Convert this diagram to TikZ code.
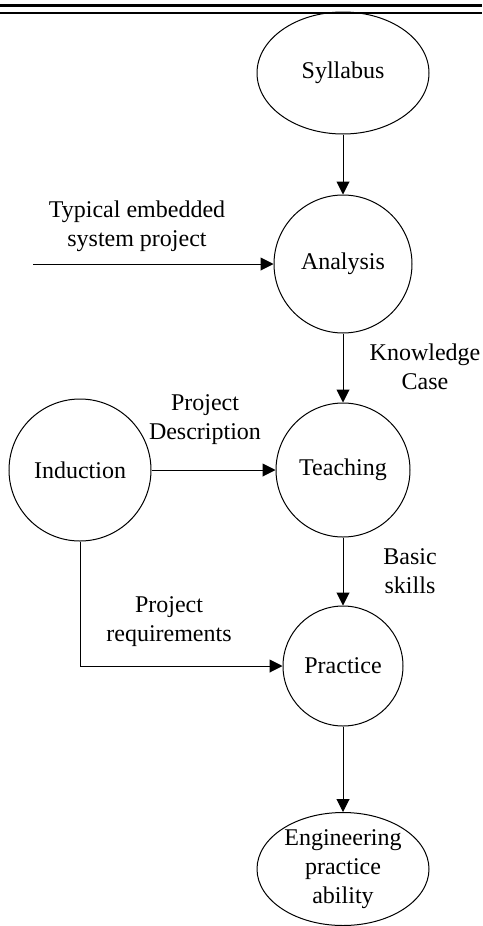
\documentclass[tikz,border=0pt]{standalone}
\usepackage{fontspec}
\setmainfont{Liberation Serif}
\usepackage{tikz}
\usetikzlibrary{arrows.meta,shapes.geometric,positioning}

\begin{document}
\begin{tikzpicture}[
    main/.style = {draw, circle, line width=0.5pt, inner sep=0pt},
    oval/.style = {draw, ellipse, line width=0.5pt, inner sep=0pt, minimum width=86pt, align=center},
    lbl/.style = {inner sep=0pt, align=center},
    arr/.style = {-{Triangle[length=6.5pt,width=6.5pt]}, line width=0.5pt},
    every node/.style = {font=\fontsize{12}{14.5}\selectfont}]
    \useasboundingbox (0,0) rectangle (241pt,-463pt);
    % rules at the top
    \draw[line width=1.85pt] (0,-2.75pt) -- (241pt,-2.75pt);
    \draw[line width=1pt] (0,-6.5pt) -- (241pt,-6.5pt);

    \node[oval, minimum height=61pt] (syl) at (171.5pt,-36.5pt) {Syllabus};
    \node[main, minimum size=69pt] (ana) [below of=syl, node distance=95.5pt] {Analysis};
    \node[main, minimum size=67pt] (tea) [below of=ana, node distance=103pt] {Teaching};
    \node[main, minimum size=71pt] (ind) [left of=tea, node distance=131.5pt] {Induction};
    \node[main, minimum size=60pt] (pra) [below of=tea, node distance=98pt] {Practice};
    \node[oval, minimum height=56.5pt] (eng) [below of=pra, node distance=101.5pt] {Engineering\\practice\\ability};
    \coordinate (src) at (16.5pt,-132pt);

    \node[lbl] (typ) at (68.5pt,-113pt) {Typical embedded\\system project};
    \node[lbl] (kno) at (212.5pt,-183.5pt) {Knowledge\\Case};
    \node[lbl] (des) at (102.5pt,-210pt) {Project\\Description};
    \node[lbl] (bas) at (205pt,-285.5pt) {Basic\\skills};
    \node[lbl] (req) at (84.5pt,-311pt) {Project\\requirements};

    \draw[arr] (syl) -- (ana);
    \draw[arr] (src) -- (ana);
    \draw[arr] (ana) -- (tea);
    \draw[arr] (ind) -- (tea);
    \draw[arr] (tea) -- (pra);
    \draw[arr] (ind) |- (pra);
    \draw[arr] (pra) -- (eng);
\end{tikzpicture}
\end{document}
